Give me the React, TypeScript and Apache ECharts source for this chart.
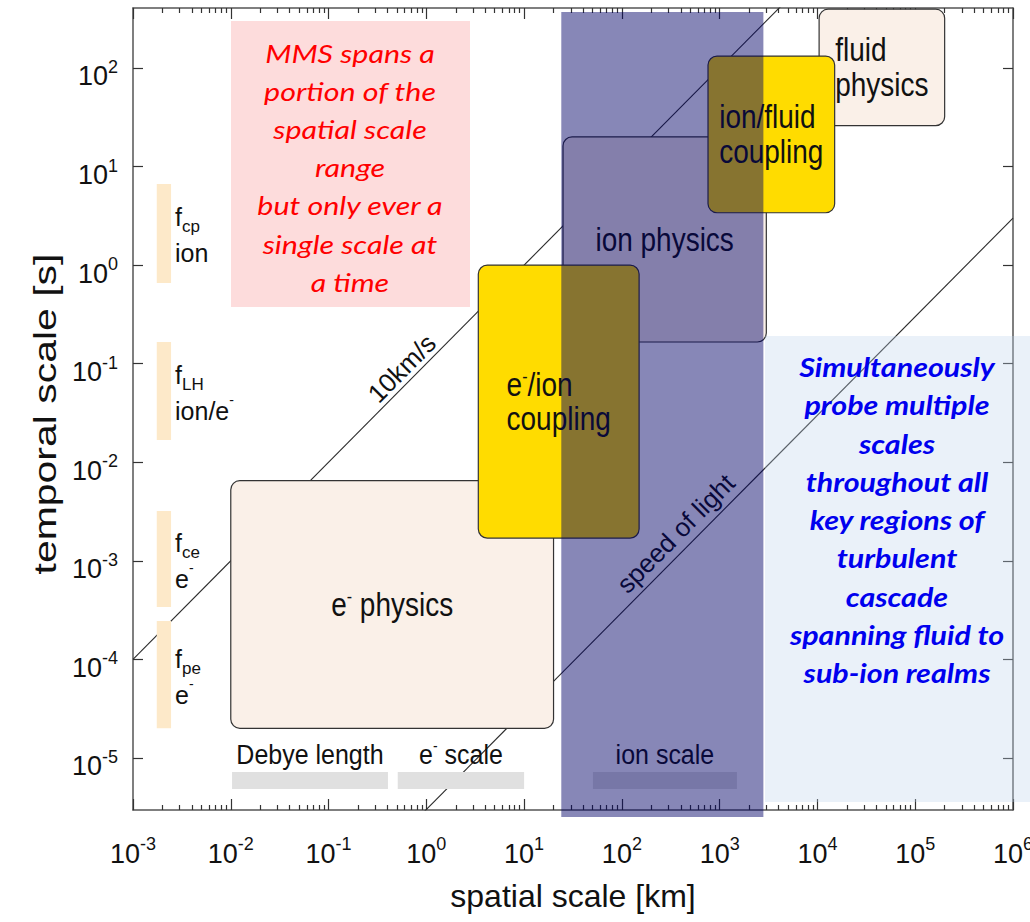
import React, { useEffect, useRef } from "react";
import * as echarts from "echarts";

const lg = (v: number) => Math.log10(v);

// ---------- axes (spatial scale [km], temporal scale [s]) ----------
const xDecades = [-3, -2, -1, 0, 1, 2, 3, 4, 5, 6];
const yDecades = [-5, -4, -3, -2, -1, 0, 1, 2];
const xRangeKm = [1e-3, 1e6];
const yRangeSec = [2.965e-6, 406];

// ---------- physical regimes (boxes) ----------
const regionLabels = ["e- physics", "fluid\nphysics", "ion physics", "e-/ion\ncoupling", "ion/fluid\ncoupling"];
const regionKm = [[0.01, 20], [1.04e4, 2.0e5], [25, 3000], [3.4, 150], [760, 1.5e4]];
const regionSec = [[2.0e-5, 6.5e-3], [26, 395], [0.166, 20], [1.7e-3, 1.0], [3.4, 132]];
const regionType = ["physics", "physics", "physics", "coupling", "coupling"];

// ---------- characteristic frequencies (left bars) ----------
const freqSymbols = ["cp", "LH", "ce", "pe"];
const freqSpecies = ["ion", "ion/e-", "e-", "e-"];
const freqKm = [1.75e-3, 2.45e-3];
const freqSec = [[0.66, 6.65], [0.0168, 0.166], [3.4e-4, 3.2e-3], [2.0e-5, 2.45e-4]];

// ---------- characteristic lengths (bottom bars) ----------
const scaleLabels = ["Debye length", "e- scale", "ion scale"];
const scaleKm = [[0.0103, 0.405], [0.51, 10], [50.6, 1500]];
const scaleSec = [4.85e-6, 7.2e-6];

// ---------- MMS spatial coverage ----------
const mmsKm = [24, 2800];

// ---------- speed lines ----------
const speedLabels = ["10km/s", "speed of light"];
const line10Km = [1e-3, 1e4];
const line10Sec = [1e-4, 1e3];
const lightKm = [0.1, 1e6];
const lightSec = [3.0e-7, 3.0];
const speedLabelKm = [0.71, 450];
const speedLabelSec = [0.071, 1.5e-3];

// ---------- annotations ----------
const mmsNote = ["MMS spans a", "portion of the", "spatial scale", "range", "but only ever a", "single scale at", "a time"];
const probeNote = ["Simultaneously", "probe multiple", "scales", "throughout all", "key regions of", "turbulent", "cascade", "spanning fluid to", "sub-ion realms"];

const HELV = "'Liberation Sans', Arial, Helvetica, sans-serif";
const LATO = "Lato, 'Open Sans', sans-serif";
const INK = "#111";

function richify(line: string): string {
  const parts = line.split("e-");
  return parts.map((p) => (p ? `{m|${p}}` : "")).join("{m|e}{s|-}");
}
function richLabel(label: string): string {
  return label.split("\n").map(richify).join("\n");
}

export default function App() {
  const ref = useRef<HTMLDivElement>(null);

  useEffect(() => {
    document.body.style.margin = "0";
    const chart = echarts.init(ref.current!, null, { renderer: "svg" });

    const xMin = lg(xRangeKm[0]);
    const xMax = lg(xRangeKm[1]);
    const yMin = lg(yRangeSec[0]);
    const yMax = lg(yRangeSec[1]);

    const xMinor: number[] = [];
    xDecades.slice(0, -1).forEach((d) => {
      for (let k = 2; k <= 9; k++) xMinor.push(d + Math.log10(k));
    });

    const tickRich = {
      b: { fontSize: 27, fontFamily: HELV, color: INK, lineHeight: 32, verticalAlign: "bottom" },
      s: { fontSize: 18, fontFamily: HELV, color: INK, lineHeight: 16, verticalAlign: "top" },
    };
    const fmt = (v: number) => `{b|10}{s|${Math.round(v)}}`;
    const frameLine = { show: true, onZero: false, lineStyle: { color: "#555", width: 1.5 } };
    const noLine = { show: false, onZero: false };
    const tickStyle = { color: "#333", width: 1.2 };

    const xBase = { type: "value", min: xMin, max: xMax, splitLine: { show: false } };
    const yBase = { type: "value", min: yMin, max: yMax, splitLine: { show: false } };

    const regionRich = {
      m: { fontSize: 28, fontFamily: HELV, fill: INK, lineHeight: 29, align: "left" },
      s: { fontSize: 16, fontFamily: HELV, fill: INK, lineHeight: 12, verticalAlign: "top", align: "left" },
    };
    const freqRich = {
      m: { fontSize: 25, fontFamily: HELV, fill: INK, lineHeight: 36, align: "left" },
      sub: { fontSize: 17, fontFamily: HELV, fill: INK, lineHeight: 20, verticalAlign: "bottom", align: "left" },
      s: { fontSize: 14, fontFamily: HELV, fill: INK, lineHeight: 16, verticalAlign: "top", align: "left" },
    };
    const scaleRich = {
      m: { fontSize: 25, fontFamily: HELV, fill: INK, lineHeight: 28, align: "left" },
      s: { fontSize: 14, fontFamily: HELV, fill: INK, lineHeight: 10, verticalAlign: "top", align: "left" },
    };

    const option: any = {
      animation: false,
      backgroundColor: "#ffffff",
      grid: { left: 133, right: 17, top: 8, bottom: 112, containLabel: false, outerBoundsMode: "none" },
      xAxis: [
        {
          ...xBase,
          position: "bottom",
          axisLine: frameLine,
          axisTick: { show: true, inside: true, length: 11, customValues: xDecades, lineStyle: tickStyle },
          axisLabel: { show: true, customValues: xDecades, formatter: fmt, rich: tickRich, margin: 25 },
          name: "spatial scale [km]",
          nameLocation: "middle",
          nameGap: 70,
          nameTextStyle: { fontSize: 32, fontFamily: HELV, color: INK },
        },
        {
          ...xBase,
          position: "bottom",
          axisLine: noLine,
          axisTick: { show: true, inside: true, length: 5, customValues: xMinor, lineStyle: tickStyle },
          axisLabel: { show: false },
        },
        {
          ...xBase,
          position: "top",
          axisLine: frameLine,
          axisTick: { show: true, inside: true, length: 11, customValues: xDecades, lineStyle: tickStyle },
          axisLabel: { show: false },
        },
        {
          ...xBase,
          position: "top",
          axisLine: noLine,
          axisTick: { show: true, inside: true, length: 5, customValues: xMinor, lineStyle: tickStyle },
          axisLabel: { show: false },
        },
      ],
      yAxis: [
        {
          ...yBase,
          position: "left",
          axisLine: frameLine,
          axisTick: { show: true, inside: true, length: 10, customValues: yDecades, lineStyle: tickStyle },
          axisLabel: { show: true, customValues: yDecades, formatter: fmt, rich: tickRich, margin: 15, padding: [12, 0, 0, 0] },
        },
        {
          ...yBase,
          position: "right",
          axisLine: frameLine,
          axisTick: { show: true, inside: true, length: 10, customValues: yDecades, lineStyle: tickStyle },
          axisLabel: { show: false },
        },
      ],
      series: [
        {
          type: "line",
          name: speedLabels[0],
          data: line10Km.map((k, i) => [lg(k), lg(line10Sec[i])]),
          symbol: "none",
          silent: true,
          clip: true,
          lineStyle: { color: "#2a2a2a", width: 1.1 },
          z: 2,
        },
        {
          type: "line",
          name: speedLabels[1],
          data: lightKm.map((k, i) => [lg(k), lg(lightSec[i])]),
          symbol: "none",
          silent: true,
          clip: true,
          lineStyle: { color: "#2a2a2a", width: 1.1 },
          z: 2,
        },
        {
          type: "custom",
          name: "frequencies",
          silent: true,
          z: 3,
          encode: { x: [0, 1], y: [2, 3] },
          data: freqSec.map((s) => [lg(freqKm[0]), lg(freqKm[1]), lg(s[0]), lg(s[1])]),
          renderItem: (params: any, api: any) => {
            const i = params.dataIndex;
            const a = api.coord([api.value(0), api.value(3)]);
            const b = api.coord([api.value(1), api.value(2)]);
            return {
              type: "group",
              children: [
                { type: "rect", shape: { x: a[0], y: a[1], width: b[0] - a[0], height: b[1] - a[1] }, style: { fill: "#fde9c9" } },
                {
                  type: "text",
                  x: b[0] + 4,
                  y: (a[1] + b[1]) / 2 + 2,
                  style: {
                    text: `{m|f}{sub|${freqSymbols[i]}}\n${richify(freqSpecies[i])}`,
                    rich: freqRich,
                    fill: INK,
                    fontSize: 25,
                    fontFamily: HELV,
                    align: "left",
                    verticalAlign: "middle",
                  },
                },
              ],
            };
          },
        },
        {
          type: "custom",
          name: "scales",
          silent: true,
          z: 3,
          encode: { x: [0, 1], y: [2, 3] },
          data: scaleKm.map((k) => [lg(k[0]), lg(k[1]), lg(scaleSec[0]), lg(scaleSec[1])]),
          renderItem: (params: any, api: any) => {
            const i = params.dataIndex;
            const a = api.coord([api.value(0), api.value(3)]);
            const b = api.coord([api.value(1), api.value(2)]);
            return {
              type: "group",
              children: [
                { type: "rect", shape: { x: a[0], y: a[1], width: b[0] - a[0], height: b[1] - a[1] }, style: { fill: "#e0e0e0" } },
                {
                  type: "text",
                  x: (a[0] + b[0]) / 2,
                  y: a[1] - 18,
                  scaleY: 1.12,
                  style: {
                    text: richLabel(scaleLabels[i]),
                    rich: scaleRich,
                    fill: INK,
                    fontSize: 25,
                    fontFamily: HELV,
                    align: "center",
                    verticalAlign: "middle",
                  },
                },
              ],
            };
          },
        },
        {
          type: "custom",
          name: "regions",
          silent: true,
          z: 4,
          encode: { x: [0, 1], y: [2, 3] },
          data: regionKm.map((k, i) => [lg(k[0]), lg(k[1]), lg(regionSec[i][0]), lg(regionSec[i][1])]),
          renderItem: (params: any, api: any) => {
            const i = params.dataIndex;
            const a = api.coord([api.value(0), api.value(3)]);
            const b = api.coord([api.value(1), api.value(2)]);
            return {
              type: "group",
              children: [
                {
                  type: "rect",
                  shape: { x: a[0], y: a[1], width: b[0] - a[0], height: b[1] - a[1], r: 9 },
                  style: { fill: regionType[i] === "coupling" ? "#ffdc00" : "#faf0e8", stroke: "#333", lineWidth: 1.2 },
                },
                {
                  type: "text",
                  x: (a[0] + b[0]) / 2,
                  y: (a[1] + b[1]) / 2,
                  scaleY: 1.2,
                  style: {
                    text: richLabel(regionLabels[i]),
                    rich: regionRich,
                    fill: INK,
                    fontSize: 28,
                    fontFamily: HELV,
                    align: "center",
                    verticalAlign: "middle",
                  },
                },
              ],
            };
          },
        },
        {
          type: "custom",
          name: "speed labels",
          silent: true,
          z: 4,
          encode: { x: 0, y: 1 },
          data: speedLabelKm.map((k, i) => [lg(k), lg(speedLabelSec[i])]),
          renderItem: (params: any, api: any) => {
            const i = params.dataIndex;
            const p = api.coord([api.value(0), api.value(1)]);
            return {
              type: "text",
              x: p[0] - 10,
              y: p[1] - 10,
              rotation: 0.789,
              style: {
                text: speedLabels[i],
                fill: INK,
                fontSize: 26,
                fontFamily: HELV,
                align: "center",
                verticalAlign: "middle",
              },
            };
          },
        },
        {
          type: "custom",
          name: "MMS coverage",
          silent: true,
          z: 6,
          encode: { x: [0, 1] },
          data: [[lg(mmsKm[0]), lg(mmsKm[1])]],
          renderItem: (params: any, api: any) => {
            const cs = params.coordSys;
            const l = api.coord([api.value(0), yMin])[0];
            const r = api.coord([api.value(1), yMin])[0];
            return {
              type: "rect",
              shape: { x: l, y: cs.y + 4, width: r - l, height: cs.height + 3 },
              style: { fill: "rgba(0,0,102,0.47)" },
            };
          },
        },
      ],
      graphic: [
        {
          type: "text",
          x: 45,
          y: 414,
          rotation: Math.PI / 2,
          scaleX: 1.28,
          z: 100,
          style: { text: "temporal scale [s]", fontSize: 32, fontFamily: HELV, fill: INK, align: "center", verticalAlign: "middle", textAlign: "center", textVerticalAlign: "middle" },
        },
        {
          type: "rect",
          z: 100,
          shape: { x: 231, y: 21, width: 239, height: 286 },
          style: { fill: "#fddcdc" },
        },
        {
          type: "text",
          x: 350,
          y: 167,
          scaleX: 1.17,
          z: 101,
          style: {
            text: mmsNote.join("\n"),
            fontSize: 26,
            fontFamily: LATO,
            fontStyle: "italic",
            lineHeight: 38.2,
            fill: "#ff0000",
            align: "center",
            verticalAlign: "middle",
            textAlign: "center",
            textVerticalAlign: "middle",
          },
        },
        {
          type: "rect",
          z: 100,
          shape: { x: 765, y: 336, width: 265, height: 466 },
          style: { fill: "rgba(190,210,235,0.32)" },
        },
        {
          type: "text",
          x: 897,
          y: 520,
          scaleX: 1.17,
          z: 101,
          style: {
            text: probeNote.join("\n"),
            fontSize: 26,
            fontFamily: LATO,
            fontStyle: "italic",
            fontWeight: "bold",
            lineHeight: 38.3,
            fill: "#0000ee",
            align: "center",
            verticalAlign: "middle",
            textAlign: "center",
            textVerticalAlign: "middle",
          },
        },
      ],
    };

    chart.setOption(option);
    return () => chart.dispose();
  }, []);

  return <div ref={ref} style={{ width: 1030, height: 922 }} />;
}
